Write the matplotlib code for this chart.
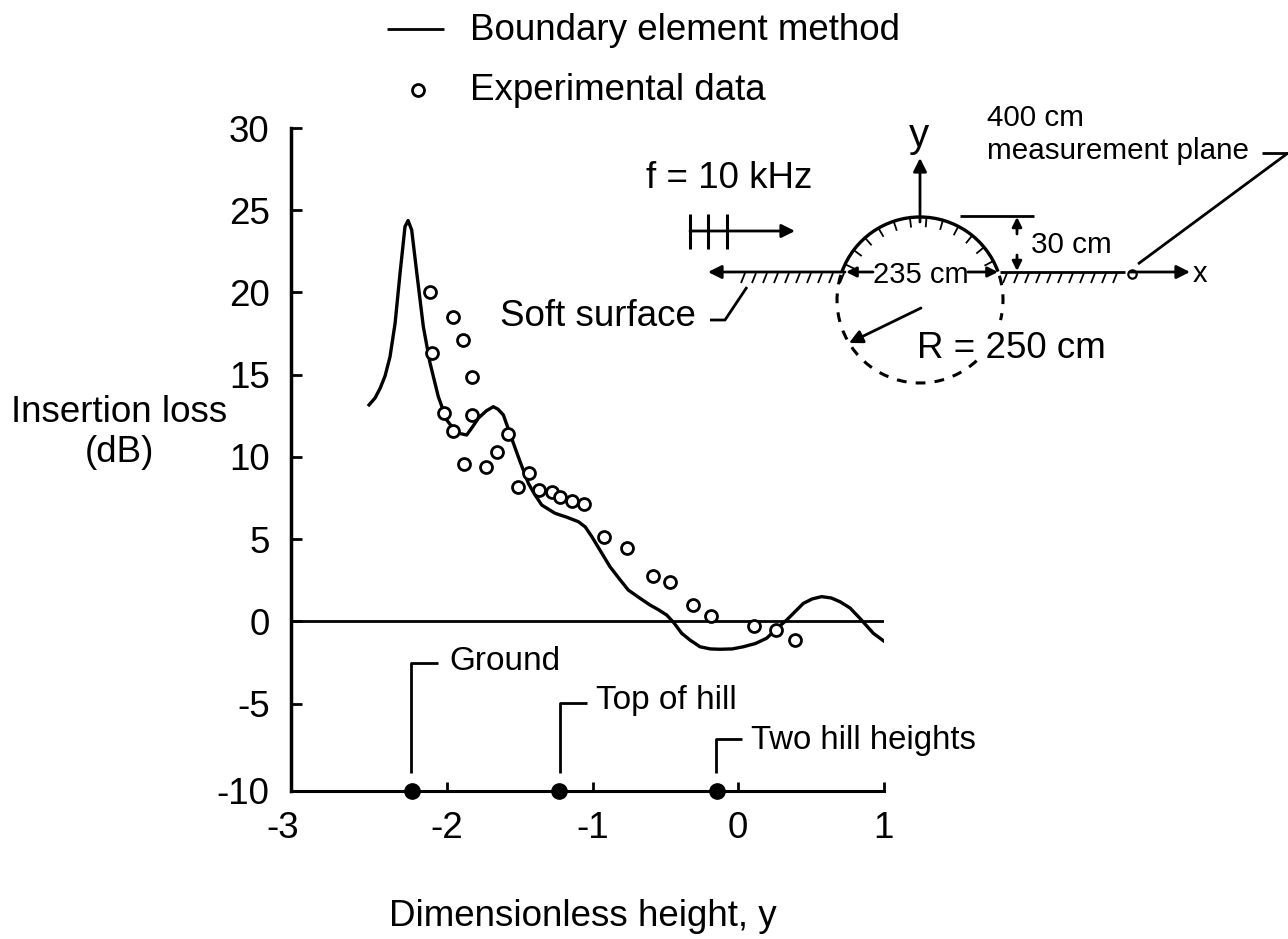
"""
Insertion loss over a hill: boundary element method vs experiment.
Main axes carry the data, the overlay axes (pixel coordinates) carry the hill sketch.
"""

import numpy as np
import matplotlib
matplotlib.use("Agg")
import matplotlib.pyplot as plt
from matplotlib.patches import Arc
from matplotlib.transforms import ScaledTranslation

plt.rcParams["font.family"] = ["Liberation Sans", "DejaVu Sans"]

# ── Data ──────────────────────────────────────────────────────────────────────

BEM_Y = [-2.536, -2.495, -2.460, -2.426, -2.392, -2.357, -2.323, -2.289, -2.268, -2.243,
         -2.208, -2.163, -2.117, -2.060, -2.002, -1.96, -1.922, -1.865, -1.825, -1.785,
         -1.73, -1.682, -1.65, -1.613, -1.544, -1.498, -1.441, -1.40, -1.349, -1.30,
         -1.258, -1.18, -1.098, -1.05, -1.005, -0.880, -0.82, -0.754, -0.68, -0.605,
         -0.55, -0.490, -0.44, -0.387, -0.33, -0.261, -0.19, -0.124, -0.04, 0.036,
         0.12, 0.197, 0.27, 0.335, 0.39, 0.449, 0.51, 0.575, 0.64, 0.701,
         0.77, 0.838, 0.930, 0.999]
BEM_LOSS = [13.16, 13.58, 14.17, 14.92, 16.09, 18.13, 21.17, 24.0, 24.37, 23.8,
            21.19, 17.92, 15.71, 13.66, 12.24, 11.76, 11.44, 11.33, 11.82, 12.35,
            12.8, 13.05, 12.9, 12.55, 10.83, 9.71, 8.39, 7.75, 7.07, 6.8,
            6.57, 6.34, 6.06, 5.74, 5.15, 3.32, 2.63, 1.90, 1.44, 0.99,
            0.72, 0.38, -0.1, -0.73, -1.14, -1.55, -1.68, -1.70, -1.68, -1.55,
            -1.35, -1.03, -0.41, 0.08, 0.57, 1.09, 1.36, 1.50, 1.42, 1.19,
            0.81, 0.18, -0.73, -1.18]

EXP_Y = [-2.117, -2.101, -2.019, -1.961, -1.957, -1.888, -1.883, -1.830, -1.830, -1.732,
         -1.658, -1.583, -1.514, -1.438, -1.366, -1.276, -1.223, -1.143, -1.056, -0.921,
         -0.763, -0.586, -0.467, -0.311, -0.186, 0.110, 0.261, 0.390]
EXP_LOSS = [20.05, 16.32, 12.65, 18.49, 11.59, 17.11, 9.57, 14.88, 12.55, 9.40,
            10.30, 11.41, 8.15, 9.02, 7.99, 7.88, 7.56, 7.30, 7.15, 5.13,
            4.48, 2.77, 2.37, 1.01, 0.30, -0.30, -0.55, -1.14]

MARK_Y = [-2.243, -1.230, -0.146]

# Шкала в оригіналі нерівномірна біля кутів: підписи -3 і -10 стоять на самих осях
X_MIN, X_MAX = -3.076, 1
Y_MIN, Y_MAX = -10.29, 30
X_TICKS = [X_MIN, -2, -1, 0, 1]
X_LABELS = ["-3", "-2", "-1", "0", "1"]
Y_TICKS = [Y_MIN, -5, 0, 5, 10, 15, 20, 25, 30]
Y_LABELS = ["-10", "-5", "0", "5", "10", "15", "20", "25", "30"]

W, H = 1288, 939
FS = 26.5
LW = 2.0


def main():
    fig = plt.figure(figsize=(W / 100, H / 100), dpi=100)

    # Осі графіка
    ax = fig.add_axes([290.5 / W, 1 - 790.5 / H, 593 / W, 662.5 / H])
    ax.set_xlim(X_MIN, X_MAX)
    ax.set_ylim(Y_MIN, Y_MAX)
    ax.spines["top"].set_visible(False)
    ax.spines["right"].set_visible(False)
    ax.spines["left"].set_linewidth(2.5)
    ax.spines["bottom"].set_linewidth(2.2)
    ax.set_xticks(X_TICKS, X_LABELS)
    ax.set_yticks(Y_TICKS, Y_LABELS)
    ax.tick_params(axis="x", direction="in", length=6.5, width=LW, labelsize=FS, pad=15)
    ax.tick_params(axis="y", direction="in", length=8, width=LW, labelsize=FS, pad=15)
    ax.patch.set_alpha(0)

    # "-3" зсунуто лівіше від кута осей
    lbl = ax.get_xticklabels()[0]
    lbl.set_transform(lbl.get_transform() + ScaledTranslation(-8 / 100, 0, fig.dpi_scale_trans))

    ax.axhline(0, color="black", lw=LW)
    ax.plot(BEM_Y, BEM_LOSS, color="black", lw=2.4, solid_joinstyle="round")
    ax.plot(EXP_Y, EXP_LOSS, "o", mfc="white", mec="black", mew=2.0, ms=8.6, clip_on=False)
    ax.plot(MARK_Y, [Y_MIN] * len(MARK_Y), "o", color="black", ms=11, clip_on=False)

    # Шар у пікселях для підписів та ескізу
    ov = fig.add_axes([0, 0, 1, 1])
    ov.set_xlim(0, W)
    ov.set_ylim(H, 0)
    ov.axis("off")

    def line(xs, ys, lw=LW, **kw):
        ov.plot(xs, ys, color="black", lw=lw, solid_capstyle="butt", **kw)

    def arrow(x0, y0, x1, y1, ms=20):
        ov.annotate("", xy=(x1, y1), xytext=(x0, y0),
                    arrowprops=dict(arrowstyle="-|>", color="black", lw=LW,
                                    mutation_scale=ms, shrinkA=0, shrinkB=0))

    def text(x, y, s, size=FS, ha="left"):
        ov.text(x, y, s, fontsize=size, ha=ha, va="center", color="black")

    # Легенда
    line([387, 444], [29, 29])
    ov.plot([418], [90], "o", mfc="white", mec="black", mew=2.0, ms=8.6)
    text(470, 30, "Boundary element method")
    text(470, 91, "Experimental data")

    # Підписи осей
    text(119, 413, "Insertion loss", ha="center")
    text(119, 452, "(dB)", ha="center")
    text(583, 917, "Dimensionless height, y", ha="center")

    # Позначки висот
    line([411, 411, 438], [773, 663, 663])
    text(449, 661, "Ground", size=24)
    line([560, 560, 587], [773, 703, 703])
    text(596, 701, "Top of hill", size=24)
    line([716, 716, 742], [773, 739, 739])
    text(751, 741, "Two hill heights", size=23.7)

    # Ескіз пагорба
    cx, cy, r = 920, 300, 83
    text(646, 179, "f = 10 kHz")
    text(987, 118, "400 cm", size=21.3)
    text(987, 151, "measurement plane", size=21.3)
    text(909, 136, "y", size=29)
    text(1031, 245, "30 cm", size=21.3)
    text(873, 275, "235 cm", size=21)
    text(1193, 274, "x", size=21)
    text(917, 348, "R = 250 cm")
    text(500, 317, "Soft surface")

    # Джерело
    line([690, 690], [214, 249], lw=2.2)
    line([708, 708], [214, 249], lw=2.2)
    line([727, 727], [214, 249], lw=2.2)
    arrow(690, 231, 795, 231)

    # Вісь y, земля, вісь x
    arrow(920, 222, 920, 158)
    arrow(845, 272, 708, 272)
    line([1000, 1125], [272, 272])
    arrow(1130, 272, 1190, 272)
    ov.plot([1132], [274], "o", mfc="white", mec="black", mew=1.6, ms=6)
    line([1138, 1288], [264, 153])
    line([1262, 1288], [153, 153])

    # Штрихування поверхні
    for gx in np.arange(745, 845, 11):
        line([gx, gx - 4], [273, 283], lw=1.3)
    for gx in np.arange(1007, 1125, 11):
        line([gx, gx - 4], [273, 283], lw=1.3)

    # Пагорб: дуга того ж кола; вісь y перевернута, тому кути йдуть за годинниковою
    ov.add_patch(Arc((cx, cy), 2 * r, 2 * r, theta1=200, theta2=340, color="black", lw=2.4))
    for t in np.radians(np.arange(28, 156, 11.5)):
        px, py = cx + r * np.cos(t), cy - r * np.sin(t)
        line([px, px - 10 * np.cos(t)], [py, py + 10 * np.sin(t)], lw=1.3)

    # Штрихове коло (нижня частина, з розривом під текстом)
    for a, b in [(47, 198), (-17, 14)]:
        ov.add_patch(Arc((cx, cy), 2 * r, 2 * r, theta1=a, theta2=b,
                         color="black", lw=2.2, ls=(0, (3.2, 3))))

    # Розміри
    arrow(873, 272, 846, 272, ms=15)
    arrow(968, 272, 998, 272, ms=15)
    arrow(921, 308, 849, 343)
    line([960, 1034], [216, 216])
    arrow(1017, 234, 1017, 217, ms=14)
    arrow(1017, 255, 1017, 271, ms=14)

    # Виноска "Soft surface"
    line([710, 725, 747], [320, 320, 287])

    fig.savefig("out.png", dpi=100)


if __name__ == "__main__":
    main()
